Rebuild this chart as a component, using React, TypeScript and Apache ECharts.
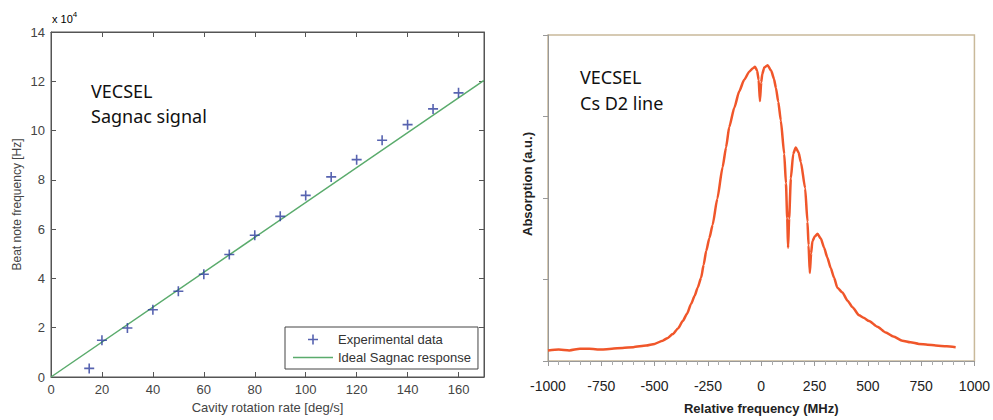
import React, { useEffect, useRef } from "react";
import * as echarts from "echarts";

// Left panel: Sagnac signal
const rotationRate = [15, 20, 30, 40, 50, 60, 70, 80, 90, 100, 110, 120, 130, 140, 150, 160];
const beatFreq = [0.35, 1.49, 1.99, 2.73, 3.48, 4.17, 4.97, 5.75, 6.52, 7.37, 8.12, 8.82, 9.61, 10.24, 10.88, 11.53]; // x 10^4 Hz
const idealRate = [0, 170];
const idealFreq = [0, 12.04];

// Right panel: Cs D2 line absorption
const freqMHz = [
  -1000, -950, -900, -850, -806, -750, -700, -650, -600, -540, -500, -462, -440, -415, -390, -368, -348, -329,
  -312, -298, -282, -270, -258, -243, -228, -206, -181, -165, -150, -126, -103, -80, -56, -40, -29, -19, -12,
  -6, 0, 5, 14, 30, 47, 60, 69, 80, 92, 108, 116, 122, 126, 131, 139, 150, 162, 175, 186, 206, 217, 222, 228,
  234, 240, 252, 264, 280, 295, 310, 326, 342, 357, 381, 405, 428, 459, 480, 506, 545, 584, 620, 662, 700,
  740, 780, 818, 870, 912,
];
const absorption = [
  0.13, 0.14, 0.13, 0.15, 0.15, 0.14, 0.15, 0.16, 0.17, 0.19, 0.21, 0.25, 0.28, 0.33, 0.4, 0.49, 0.58, 0.7,
  0.8, 0.9, 1.02, 1.18, 1.35, 1.51, 1.67, 1.99, 2.38, 2.62, 2.87, 3.11, 3.31, 3.45, 3.55, 3.59, 3.61, 3.56, 3.45,
  3.19, 3.42, 3.52, 3.6, 3.63, 3.56, 3.46, 3.35, 3.18, 2.95, 2.54, 2.18, 1.75, 1.39, 1.75, 2.24, 2.54, 2.62, 2.56,
  2.44, 2.12, 1.71, 1.42, 1.08, 1.32, 1.47, 1.53, 1.56, 1.5, 1.39, 1.27, 1.14, 1.02, 0.9, 0.84, 0.74, 0.66, 0.56,
  0.53, 0.49, 0.42, 0.35, 0.3, 0.25, 0.23, 0.21, 0.2, 0.19, 0.18, 0.17,
];

const leftTicksX = 20;
const leftTicksY = 2;
const rightTicksX = 250;

export default function App() {
  const ref = useRef<HTMLDivElement>(null);
  useEffect(() => {
    if (!ref.current) return;
    const chart = echarts.init(ref.current, undefined, { renderer: "svg" });
    const sans = "Liberation Sans";
    const plusPath =
      "path://M4.2,0 L5.8,0 L5.8,4.2 L10,4.2 L10,5.8 L5.8,5.8 L5.8,10 L4.2,10 L4.2,5.8 L0,5.8 L0,4.2 L4.2,4.2 Z";
    const option: any = {
      animation: false,
      backgroundColor: "#fff",
      grid: [
        { left: 51, top: 32, width: 433, height: 345, show: true, borderColor: "#555", borderWidth: 1, backgroundColor: "transparent" },
        { left: 548, top: 35, width: 427, height: 329, show: true, borderColor: "#c9b99a", borderWidth: 1.5, backgroundColor: "transparent" },
      ],
      legend: {
        left: 285,
        top: 327,
        orient: "vertical",
        backgroundColor: "#fff",
        borderColor: "#444",
        borderWidth: 1,
        borderRadius: 0,
        padding: [6, 7, 5, 8],
        itemGap: 5,
        itemWidth: 40,
        itemHeight: 10,
        textStyle: { fontFamily: sans, fontSize: 13, color: "#333" },
        data: [
          { name: "Experimental data" },
          { name: "Ideal Sagnac response", icon: "path://M0,0 L40,0 L40,1.5 L0,1.5 Z" },
        ],
      },
      xAxis: [
        {
          type: "value",
          gridIndex: 0,
          min: 0,
          max: 170,
          interval: leftTicksX,
          name: "Cavity rotation rate [deg/s]",
          nameLocation: "middle",
          nameGap: 22,
          nameTextStyle: { fontFamily: sans, fontSize: 13, color: "#444" },
          axisLine: { show: true, onZero: false, lineStyle: { color: "#555" } },
          axisTick: { show: true, inside: true, length: 5, lineStyle: { color: "#555" } },
          axisLabel: { fontFamily: sans, fontSize: 13, color: "#444", margin: 6, showMaxLabel: false },
          splitLine: { show: false },
        },
        {
          type: "value",
          gridIndex: 0,
          position: "top",
          min: 0,
          max: 170,
          interval: leftTicksX,
          axisLine: { show: true, onZero: false, lineStyle: { color: "#555" } },
          axisTick: { show: true, inside: true, length: 5, lineStyle: { color: "#555" } },
          axisLabel: { show: false },
          splitLine: { show: false },
        },
        {
          type: "value",
          gridIndex: 1,
          min: -1000,
          max: 1000,
          interval: rightTicksX,
          name: "Relative frequency (MHz)",
          nameLocation: "middle",
          nameGap: 41,
          nameTextStyle: { fontFamily: sans, fontSize: 13, fontWeight: "bold", color: "#222" },
          axisLine: { show: true, onZero: false, lineStyle: { color: "#999" } },
          axisTick: { show: true, inside: false, length: 5, lineStyle: { color: "#999" } },
          minorTick: { show: true, splitNumber: 5, length: 4, lineStyle: { color: "#aaa" } },
          axisLabel: { fontFamily: sans, fontSize: 14, color: "#222", margin: 18, formatter: (v: number) => String(v) },
          splitLine: { show: false },
        },
      ],
      yAxis: [
        {
          type: "value",
          gridIndex: 0,
          min: 0,
          max: 14,
          interval: leftTicksY,
          name: "Beat note frequency [Hz]",
          nameLocation: "middle",
          nameGap: 28,
          nameTextStyle: { fontFamily: sans, fontSize: 12, color: "#444" },
          axisLine: { show: true, onZero: false, lineStyle: { color: "#555" } },
          axisTick: { show: true, inside: true, length: 5, lineStyle: { color: "#555" } },
          axisLabel: { fontFamily: sans, fontSize: 13, color: "#444", margin: 6 },
          splitLine: { show: false },
        },
        {
          type: "value",
          gridIndex: 0,
          position: "right",
          min: 0,
          max: 14,
          interval: leftTicksY,
          axisLine: { show: true, onZero: false, lineStyle: { color: "#555" } },
          axisTick: { show: true, inside: true, length: 5, lineStyle: { color: "#555" } },
          axisLabel: { show: false },
          splitLine: { show: false },
        },
        {
          type: "value",
          gridIndex: 1,
          min: 0,
          max: 4,
          interval: 1,
          axisLine: { show: true, onZero: false, lineStyle: { color: "#999" } },
          axisTick: { show: true, inside: false, length: 5, lineStyle: { color: "#999" } },
          axisLabel: { show: false },
          splitLine: { show: false },
        },
      ],
      series: [
        {
          name: "Experimental data",
          type: "scatter",
          xAxisIndex: 0,
          yAxisIndex: 0,
          symbol: plusPath,
          symbolSize: 10,
          itemStyle: { color: "#2d3c9c" },
          data: rotationRate.map((r, i) => [r, beatFreq[i]]),
          z: 3,
        },
        {
          name: "Ideal Sagnac response",
          type: "line",
          xAxisIndex: 0,
          yAxisIndex: 0,
          symbol: "none",
          lineStyle: { color: "#5aab6c", width: 1.5 },
          itemStyle: { color: "#5aab6c" },
          data: idealRate.map((r, i) => [r, idealFreq[i]]),
          z: 2,
        },
        {
          name: "Cs D2",
          type: "line",
          xAxisIndex: 2,
          yAxisIndex: 2,
          symbol: "none",
          smooth: 0.2,
          smoothMonotone: "x",
          lineStyle: { color: "#f0562a", width: 2.5, join: "round" },
          data: freqMHz.map((f, i) => [f, absorption[i]]),
        },
      ],
      graphic: [
        {
          type: "text",
          left: 91,
          top: 78,
          style: { text: "VECSEL\nSagnac signal", font: "18px 'Noto Sans'", fill: "#111", lineHeight: 25 },
        },
        {
          type: "text",
          left: 580,
          top: 64,
          style: { text: "VECSEL\nCs D2 line", font: "18px 'Noto Sans'", fill: "#111", lineHeight: 26 },
        },
        {
          type: "text",
          left: 52,
          top: 10,
          style: {
            text: "{a|x 10}{b|4}",
            rich: {
              a: { fontFamily: sans, fontSize: 11, color: "#555", verticalAlign: "bottom", lineHeight: 14 },
              b: { fontFamily: sans, fontSize: 8, color: "#555", verticalAlign: "top", lineHeight: 14 },
            },
          },
        },
        {
          type: "text",
          x: 527,
          y: 184,
          rotation: Math.PI / 2,
          style: {
            text: "Absorption (a.u.)",
            font: `bold 13px '${sans}'`,
            fill: "#222",
            align: "center",
            verticalAlign: "middle",
          },
        },
      ],
    };
    chart.setOption(option);
    return () => chart.dispose();
  }, []);
  return <div ref={ref} style={{ position: "fixed", left: 0, top: 0, width: 993, height: 420 }} />;
}
